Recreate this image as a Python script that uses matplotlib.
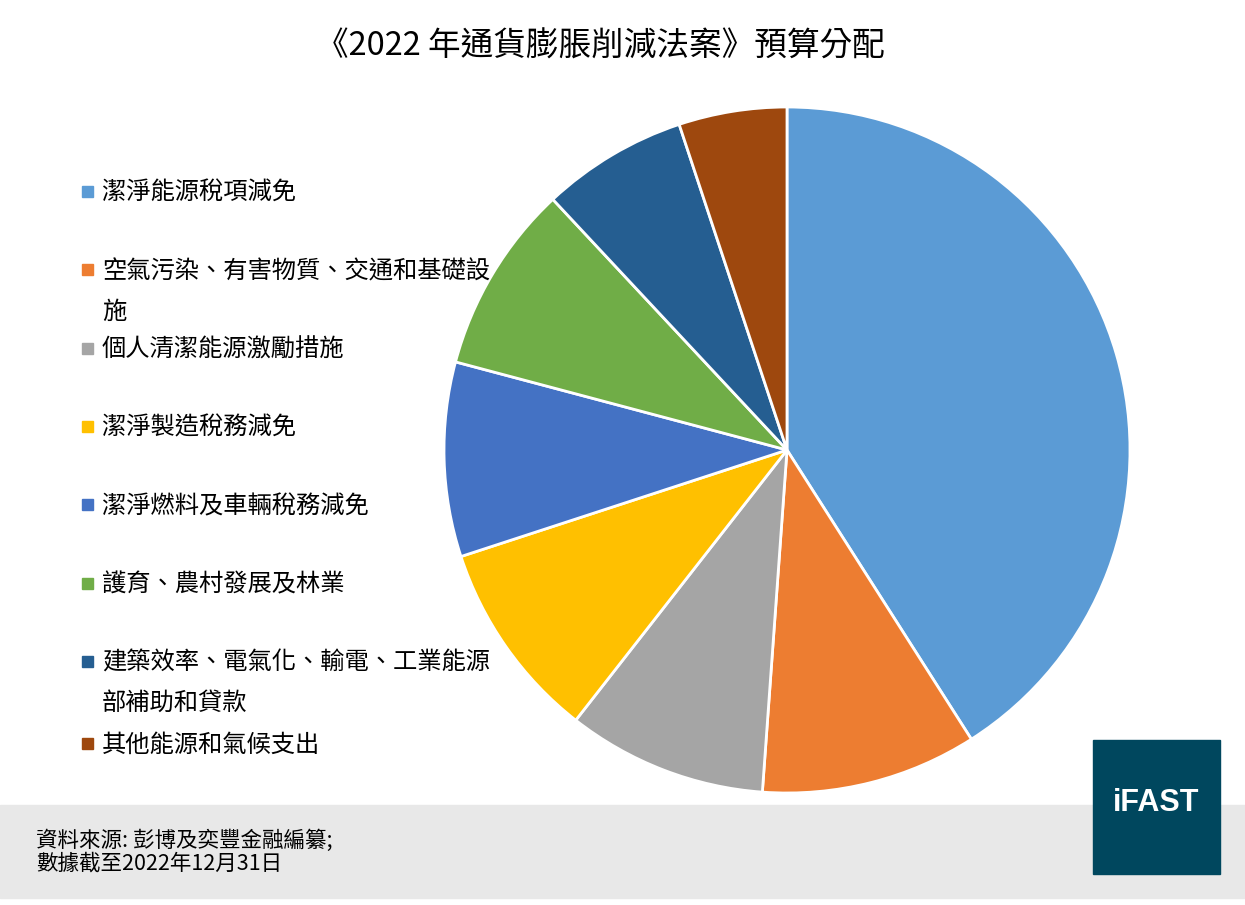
import matplotlib
matplotlib.use('Agg')
import matplotlib.pyplot as plt
from matplotlib.patches import Rectangle

plt.rcParams['font.family'] = ['Noto Sans CJK TC', 'DejaVu Sans']

# 預算分配 (十億美元)
labels = ['潔淨能源稅項減免',
          '空氣污染、有害物質、交通和基礎設\n施',
          '個人清潔能源激勵措施',
          '潔淨製造稅務減免',
          '潔淨燃料及車輛稅務減免',
          '護育、農村發展及林業',
          '建築效率、電氣化、輸電、工業能源\n部補助和貸款',
          '其他能源和氣候支出']
values = [161, 40, 37, 37, 36, 35, 27, 20]
colors = ['#5B9BD5', '#ED7D31', '#A5A5A5', '#FFC000',
          '#4472C4', '#70AD47', '#255E91', '#9E480E']

W, H = 1245, 905
fig = plt.figure(figsize=(W / 100, H / 100), dpi=100)
fig.patch.set_facecolor('white')

# 底部灰色資料來源區
fig.add_artist(Rectangle((0, 1 - 898 / H), 1, (898 - 805) / H,
                         transform=fig.transFigure, color='#E8E8E8', zorder=0))

# 圓餅圖
cx, cy, r = 787, 450, 343
ax = fig.add_axes([(cx - r) / W, 1 - (cy + r) / H, 2 * r / W, 2 * r / H])
ax.pie(values, colors=colors, startangle=90, counterclock=False, radius=1,
       wedgeprops=dict(edgecolor='white', linewidth=2))
ax.set_xlim(-1, 1)
ax.set_ylim(-1, 1)
ax.set_aspect('equal')
ax.axis('off')

fig.text(600 / W, 1 - 47 / H, '《2022 年通貨膨脹削減法案》預算分配',
         ha='center', va='center', fontsize=23.5)

# 圖例
for i, (lab, col) in enumerate(zip(labels, colors)):
    y = 191 + 78.3 * i
    if i == 7:
        y = 743
    fig.add_artist(Rectangle((82 / W, 1 - (y + 6) / H), 11 / W, 11 / H,
                             transform=fig.transFigure, color=col))
    fig.text(102 / W, 1 - (y - 11) / H, lab, ha='left', va='top',
             fontsize=17.5, linespacing=1.72)

fig.text(36 / W, 1 - 852 / H, '資料來源: 彭博及奕豐金融編纂;\n數據截至2022年12月31日',
         ha='left', va='center', fontsize=15.5, linespacing=1.0)

# iFAST 標誌
fig.add_artist(Rectangle((1093 / W, 1 - 874 / H), 127 / W, 134 / H,
                         transform=fig.transFigure, color='#00475E'))
fig.text(1156 / W, 1 - 803 / H, 'iFAST', ha='center', va='center',
         fontsize=22, color='white', fontweight='bold', family='Liberation Sans')

fig.savefig('out.png', dpi=100)
